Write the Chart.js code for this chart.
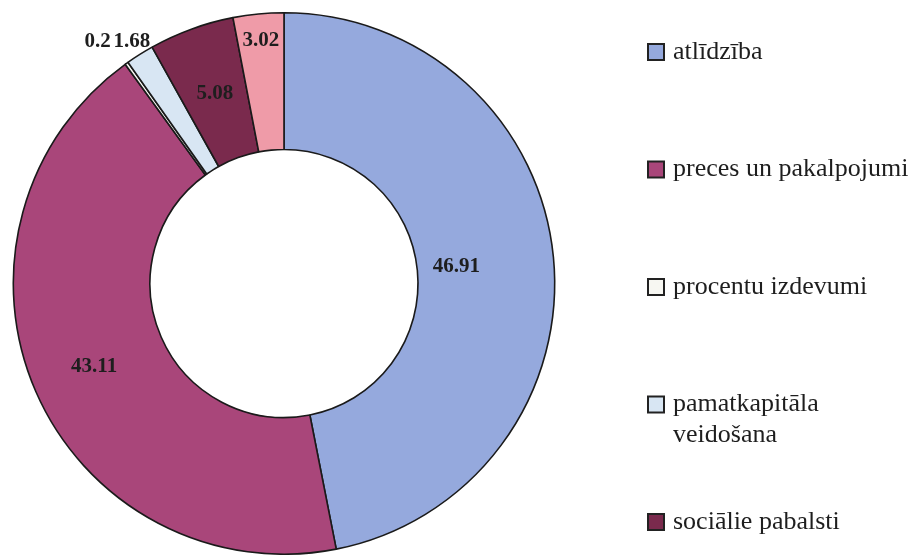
<!DOCTYPE html>
<html>
<head>
<meta charset="utf-8">
<script src="https://cdn.jsdelivr.net/npm/chart.js@4/dist/chart.umd.min.js"></script>
<style>
    html, body { margin: 0; padding: 0; background: #fff; overflow: hidden; }
    #wrap { position: relative; width: 915px; height: 555px; }
</style>
</head>
<body>
<div id="wrap"><canvas id="chart"></canvas></div>
<script>
// Expenditure structure (%)
const categories = [
    'atlīdzība',
    'preces un pakalpojumi',
    'procentu izdevumi',
    'pamatkapitāla veidošana',
    'sociālie pabalsti',
    'pārējie izdevumi'
];
const shares = [46.91, 43.11, 0.2, 1.68, 5.08, 3.02];
const valueLabels = ['46.91', '43.11', '0.2', '1.68', '5.08', '3.02'];

const sliceColors = ['#95a9dd', '#a9467a', '#f7f7f2', '#d8e6f3', '#7a2a4d', '#ef9ba8'];
// where each value label sits, as a fraction of the outer radius, and how it is anchored
const labelRadius = [0.64, 0.765, 1.1, 1.055, 0.745, 0.9];
const labelAlign = ['center', 'center', 'right', 'center', 'center', 'center'];

const serif = "'Liberation Serif', 'Times New Roman', serif";

const valueLabelPlugin = {
    id: 'valueLabels',
    afterDatasetsDraw(chart) {
        const ctx = chart.ctx;
        const arcs = chart.getDatasetMeta(0).data;
        ctx.save();
        ctx.font = 'bold 21px ' + serif;
        ctx.fillStyle = '#1e1e1e';
        ctx.textBaseline = 'middle';
        arcs.forEach((arc, i) => {
            const p = arc.getProps(['x', 'y', 'startAngle', 'endAngle', 'outerRadius'], true);
            const mid = (p.startAngle + p.endAngle) / 2;
            const r = p.outerRadius * labelRadius[i];
            ctx.textAlign = labelAlign[i];
            ctx.fillText(valueLabels[i], p.x + Math.cos(mid) * r, p.y + Math.sin(mid) * r);
        });
        ctx.restore();
    }
};

const sideLegendPlugin = {
    id: 'sideLegend',
    afterDraw(chart) {
        const ctx = chart.ctx;
        const boxX = 648, textX = 673, top = 52, step = 117.5, lineH = 31, maxW = 242;
        ctx.save();
        ctx.font = '26px ' + serif;
        ctx.textBaseline = 'middle';
        categories.forEach((name, i) => {
            const y = top + i * step;
            ctx.fillStyle = sliceColors[i];
            ctx.fillRect(boxX, y - 8, 16, 16);
            ctx.strokeStyle = '#222';
            ctx.lineWidth = 2;
            ctx.strokeRect(boxX, y - 8, 16, 16);
            // simple word wrap
            const lines = [];
            let line = '';
            name.split(' ').forEach(w => {
                const test = line ? line + ' ' + w : w;
                if (ctx.measureText(test).width > maxW && line) {
                    lines.push(line);
                    line = w;
                } else {
                    line = test;
                }
            });
            lines.push(line);
            ctx.fillStyle = '#1e1e1e';
            lines.forEach((l, k) => ctx.fillText(l, textX, y + k * lineH));
        });
        ctx.restore();
    }
};

new Chart(document.getElementById('chart'), {
    type: 'doughnut',
    data: {
        labels: categories,
        datasets: [{
            data: shares,
            backgroundColor: sliceColors,
            borderColor: '#1a1a1a',
            borderWidth: 1.6,
            hoverOffset: 0
        }]
    },
    options: {
        responsive: true,
        maintainAspectRatio: false,
        animation: false,
        cutout: '49.5%',
        layout: {
            padding: { top: 12, bottom: 0, left: 12, right: 359 }
        },
        plugins: {
            legend: { display: false },
            tooltip: { enabled: false }
        }
    },
    plugins: [valueLabelPlugin, sideLegendPlugin]
});
</script>
</body>
</html>
